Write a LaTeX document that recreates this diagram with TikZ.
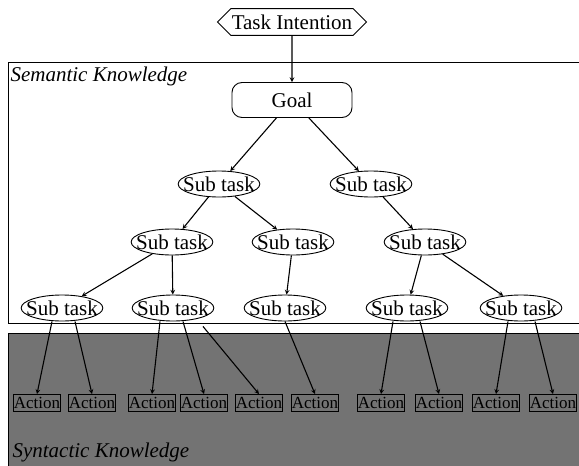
\documentclass[tikz,border=0pt]{standalone}
\usepackage{fontspec}
\setmainfont{Liberation Serif}
\usetikzlibrary{shapes.geometric,shapes.symbols}

\begin{document}
\begin{tikzpicture}[x=1pt,y=-1pt,
        every node/.style={font=\fontsize{21}{24}\selectfont},
        intention/.style={draw, fill=white, signal, signal to=east and west, inner xsep=1pt, inner ysep=6pt, line width=0.9pt},
        goalbox/.style={draw, fill=white, rounded corners=10pt, minimum width=120pt, minimum height=35pt, line width=0.9pt},
        subtask/.style={draw, fill=white, ellipse, minimum width=80pt, minimum height=26pt, inner xsep=-7pt, inner ysep=0pt, line width=0.9pt},
        action/.style={draw, fill=black!55, minimum width=47pt, minimum height=17pt, inner sep=0pt, line width=0.9pt, font=\fontsize{17}{18}\selectfont},
        arr/.style={-stealth, line width=1.1pt}
    ]
        \useasboundingbox (0,0) rectangle (579,466);
        % knowledge areas
        \draw[line width=0.9pt] (8,62) rectangle (590,323);
        \fill[black!55] (8,333) rectangle (590,470);
        \draw[line width=0.9pt] (8,470) -- (8,333) -- (590,333);
        \node[anchor=west, font=\fontsize{21}{24}\selectfont\itshape] (sem) at (7,76) {Semantic Knowledge};
        \node[anchor=west, font=\fontsize{21}{24}\selectfont\itshape] (syn) at (9,452) {Syntactic Knowledge};

        \node[intention] (intent) at (292,22) {Task Intention};
        \node[goalbox] (goal) at (292,100) {Goal};
        \node[subtask] (a1) at (219,184) {Sub task};
        \node[subtask] (a2) at (371,184) {Sub task};
        \node[subtask] (b1) at (172,242) {Sub task};
        \node[subtask] (b2) at (293,242) {Sub task};
        \node[subtask] (b3) at (425,242) {Sub task};
        \node[subtask] (c1) at (62,308) {Sub task};
        \node[subtask] (c2) at (173,308) {Sub task};
        \node[subtask] (c3) at (285,308) {Sub task};
        \node[subtask] (c4) at (407,308) {Sub task};
        \node[subtask] (c5) at (521,308) {Sub task};
        \foreach \n/\x in {1/37,2/92,3/152,4/204,5/259,6/315,7/381,8/439,9/496,10/553}
            \node[action] (act\n) at (\x,403) {Action};

        \draw[arr] (intent) -- (goal);
        \draw[arr] (goal) -- (a1);
        \draw[arr] (goal) -- (a2);
        \draw[arr] (a1) -- (b1);
        \draw[arr] (a1) -- (b2);
        \draw[arr] (a2) -- (b3);
        \draw[arr] (b1) -- (c1);
        \draw[arr] (b1) -- (c2);
        \draw[arr] (b2) -- (c3);
        \draw[arr] (b3) -- (c4);
        \draw[arr] (b3) -- (c5);

        \draw[arr] ([xshift=-10pt]c1.south) -- (act1.north);
        \draw[arr] ([xshift=13pt]c1.south) -- (act2.north);
        \draw[arr] ([xshift=-13pt]c2.south) -- (act3.north);
        \draw[arr] ([xshift=10pt]c2.south) -- (act4.north);
        \draw[arr] ([xshift=30pt,yshift=-5pt]c2.south) -- (act5.north);
        \draw[arr] (c3.south) -- (act6.north);
        \draw[arr] ([xshift=-14pt]c4.south) -- (act7.north);
        \draw[arr] ([xshift=13pt]c4.south) -- (act8.north);
        \draw[arr] ([xshift=-13pt]c5.south) -- (act9.north);
        \draw[arr] ([xshift=14pt]c5.south) -- (act10.north);
    \end{tikzpicture}
\end{document}
